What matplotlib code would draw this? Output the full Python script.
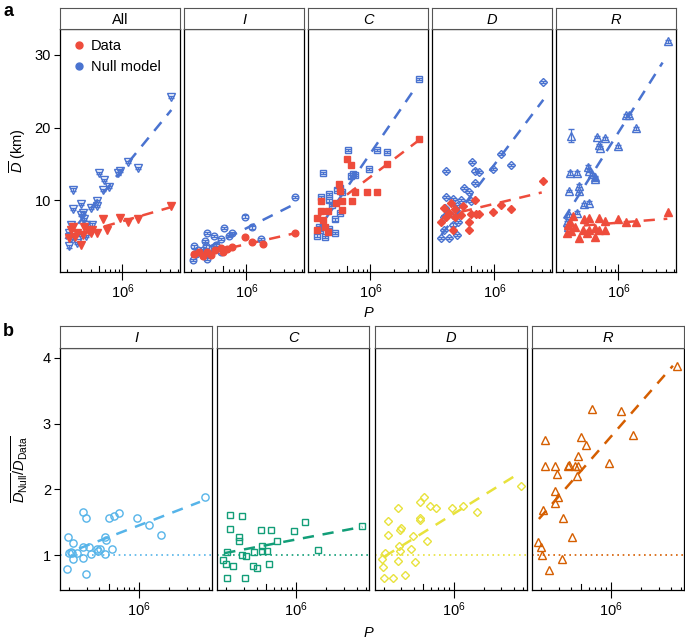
import numpy as np
import matplotlib
matplotlib.use('Agg')
import matplotlib.pyplot as plt
from matplotlib.ticker import FixedLocator, FixedFormatter, NullFormatter
from matplotlib.lines import Line2D

plt.rcParams['font.family'] = ['Liberation Sans', 'DejaVu Sans']
plt.rcParams['mathtext.fontset'] = 'custom'
plt.rcParams['mathtext.rm'] = 'Liberation Sans'
plt.rcParams['mathtext.it'] = 'Liberation Sans:italic'
plt.rcParams['mathtext.bf'] = 'Liberation Sans:bold'

# ---------------- data (x values are log10 of population P) ----------------
# Panel a: mean distance D (km), data and null model
all_null_logP = [6.61, 6.20, 6.07, 5.97, 5.95, 5.71, 5.77, 5.83, 5.75, 5.37, 5.38, 5.47, 5.50, 5.48,
                 5.60, 5.68, 5.68, 5.52, 5.61, 5.54, 5.35, 5.33, 5.33, 5.35, 5.43, 5.33, 5.47, 5.54]
all_null_D = [24.2, 14.4, 15.3, 14.0, 13.7, 13.8, 12.8, 11.8, 11.4, 11.5, 8.8, 9.5, 8.3, 8.0,
              9.0, 9.9, 9.3, 7.5, 6.7, 6.6, 6.7, 5.5, 5.0, 4.9, 4.2, 3.7, 5.3, 5.1]
all_data_logP = [6.61, 6.20, 6.07, 5.97, 5.75, 5.81, 5.68, 5.57, 5.60, 5.50, 5.43, 5.37, 5.35,
                 5.40, 5.47, 5.33, 5.52, 5.62]
all_data_D = [9.3, 7.4, 7.0, 7.6, 7.4, 6.0, 5.5, 6.0, 5.5, 5.3, 5.5, 6.4, 6.0, 5.0, 3.9, 4.9, 6.3, 5.9]

I_null_logP = [6.61, 5.98, 6.07, 6.18, 5.72, 5.82, 5.78, 5.68, 5.50, 5.48, 5.59, 5.62, 5.34, 5.39,
               5.36, 5.32, 5.49, 5.49, 5.50, 5.59, 5.68, 5.45]
I_null_D = [10.5, 7.8, 6.3, 4.7, 6.2, 5.5, 5.1, 4.7, 5.5, 4.5, 5.1, 3.9, 3.7, 3.2,
            2.7, 1.8, 3.7, 2.7, 2.0, 3.4, 2.9, 3.2]
I_data_logP = [6.61, 6.21, 6.07, 5.98, 5.82, 5.75, 5.34, 5.40, 5.50, 5.60, 5.68, 5.55, 5.45, 5.70]
I_data_D = [5.6, 4.1, 4.3, 5.0, 3.6, 3.4, 2.6, 2.9, 3.0, 3.2, 3.5, 2.5, 2.4, 3.0]

C_null_logP = [5.40, 5.72, 5.38, 5.48, 5.48, 5.58, 5.62, 5.64, 5.75, 5.78, 5.81, 5.52, 5.62, 5.55,
               5.35, 5.36, 5.33, 5.42, 5.55, 5.48, 6.62, 6.21, 6.08, 5.98]
C_null_D = [13.8, 16.9, 10.5, 10.9, 10.0, 11.5, 11.7, 11.2, 13.3, 13.6, 13.5, 9.4, 8.3, 7.4,
            6.4, 6.0, 5.2, 5.0, 5.5, 6.1, 26.7, 16.6, 16.9, 14.3]
C_data_logP = [6.62, 6.21, 6.08, 5.96, 5.71, 5.75, 5.60, 5.61, 5.81, 5.56, 5.64, 5.77, 5.46, 5.38,
               5.37, 5.33, 5.42, 5.46, 5.33, 5.40, 5.64]
C_data_D = [18.4, 15.0, 11.1, 11.1, 15.7, 14.9, 12.2, 11.3, 11.1, 9.6, 9.9, 9.9, 8.5, 9.9,
            8.6, 7.6, 6.4, 5.7, 6.0, 7.3, 8.7]

D_null_logP = [6.61, 6.21, 5.98, 6.08, 5.72, 5.76, 5.80, 5.75, 5.62, 5.68, 5.39, 5.39, 5.47, 5.58,
               5.70, 5.53, 5.37, 5.36, 5.48, 5.54, 5.47, 5.36, 5.33, 5.43, 5.53]
D_null_D = [26.2, 14.9, 14.3, 16.4, 15.3, 14.1, 13.9, 12.4, 11.7, 11.2, 14.0, 10.5, 10.2, 10.1,
            9.9, 9.2, 9.0, 7.8, 8.0, 7.1, 6.7, 6.0, 4.9, 4.9, 5.3]
D_data_logP = [6.61, 6.21, 6.08, 5.98, 5.81, 5.75, 5.77, 5.70, 5.60, 5.50, 5.45, 5.36, 5.39, 5.50,
               5.42, 5.68, 5.68, 5.47, 5.33, 5.58]
D_data_D = [12.7, 8.8, 9.4, 8.4, 8.1, 10.1, 8.1, 8.1, 9.2, 8.8, 9.6, 9.0, 7.7, 7.7,
            8.3, 7.0, 6.0, 6.0, 7.1, 8.0]

R_null_logP = [6.63, 6.10, 6.13, 6.22, 5.99, 5.40, 5.73, 5.83, 5.75, 5.77, 5.62, 5.63, 5.67, 5.70,
               5.70, 5.39, 5.48, 5.50, 5.50, 5.37, 5.56, 5.63, 5.48, 5.37, 5.36, 5.35]
R_null_D = [31.8, 21.7, 21.7, 19.9, 17.4, 18.9, 18.7, 18.5, 17.6, 17.2, 14.6, 14.1, 13.6, 13.2,
            13.0, 13.8, 13.8, 12.0, 11.3, 11.3, 9.5, 9.7, 8.3, 8.0, 6.4, 7.0]
R_null_err = [0.2, 0.2, 0.2, 0.2, 0.2, 0.9, 0.2, 0.2, 0.2, 0.2, 0.2, 0.2, 0.2, 0.2,
              0.2, 0.3, 0.3, 0.2, 0.2, 0.2, 0.2, 0.2, 0.2, 0.2, 0.2, 0.2]
R_data_logP = [6.63, 6.22, 6.10, 5.99, 5.83, 5.75, 5.63, 5.56, 5.43, 5.39, 5.71, 5.75, 5.63, 5.55,
               5.50, 5.35, 5.36, 5.70, 5.83, 5.45, 5.40, 5.60]
R_data_D = [8.4, 7.1, 7.0, 7.4, 7.2, 7.6, 7.6, 7.4, 7.9, 7.1, 6.2, 6.0, 6.0, 6.0,
            4.9, 5.5, 6.6, 5.0, 5.9, 6.4, 5.8, 5.6]

# fitted trend lines: (logP_start, logP_end), (D_start, D_end)
fit_a = {
    'All': {'null': ((5.28, 6.62), (4.7, 22.4)), 'data': ((5.28, 6.62), (4.9, 9.1))},
    'I':   {'null': ((5.30, 6.61), (2.4, 9.5)),  'data': ((5.30, 6.61), (2.3, 5.5))},
    'C':   {'null': ((5.30, 6.58), (5.4, 25.6)), 'data': ((5.30, 6.62), (7.5, 18.3))},
    'D':   {'null': ((5.33, 6.62), (5.3, 23.8)), 'data': ((5.33, 6.60), (7.8, 11.1))},
    'R':   {'null': ((5.31, 6.56), (7.5, 28.9)), 'data': ((5.31, 6.62), (6.35, 7.5))},
}

# Panel b: ratio D_null / D_data
I_ratio_logP = [5.28, 5.29, 5.30, 5.32, 5.33, 5.34, 5.34, 5.38, 5.44, 5.47, 5.44, 5.44, 5.47, 5.50,
                5.52, 5.58, 5.59, 5.61, 5.66, 5.67, 5.66, 5.70, 5.75, 5.80, 5.73, 5.98, 6.10, 6.22, 6.66]
I_ratio = [0.79, 1.28, 1.03, 1.05, 1.04, 0.94, 1.18, 1.03, 1.65, 1.57, 1.12, 0.96, 0.72, 1.13,
           1.02, 1.10, 1.07, 1.10, 1.27, 1.23, 1.02, 1.56, 1.59, 1.64, 1.09, 1.56, 1.46, 1.31, 1.89]
C_ratio_logP = [5.34, 5.46, 5.34, 5.43, 5.43, 5.65, 5.75, 5.98, 6.09, 6.66, 5.81, 5.66, 5.66, 5.71,
                5.58, 5.46, 5.50, 5.31, 5.27, 5.30, 5.37, 5.57, 5.61, 5.73, 6.22, 5.31, 5.49]
C_ratio = [1.61, 1.59, 1.40, 1.27, 1.22, 1.38, 1.38, 1.37, 1.51, 1.44, 1.21, 1.14, 1.07, 1.07,
           1.05, 1.00, 0.99, 1.05, 0.92, 0.87, 0.83, 0.84, 0.80, 0.87, 1.08, 0.66, 0.66]
D_ratio_logP = [5.34, 5.44, 5.34, 5.47, 5.46, 5.66, 5.70, 5.66, 5.66, 5.76, 5.82, 5.45, 5.46, 5.57,
                5.59, 5.61, 5.73, 5.44, 5.31, 5.28, 5.29, 5.30, 5.39, 5.51, 5.98, 6.09, 6.23, 6.67]
D_ratio = [1.52, 1.71, 1.30, 1.41, 1.38, 1.81, 1.88, 1.56, 1.53, 1.75, 1.71, 1.14, 1.07, 1.10,
           1.29, 0.90, 1.22, 0.91, 1.04, 0.94, 0.82, 0.65, 0.65, 0.70, 1.71, 1.74, 1.66, 2.05]
R_ratio_logP = [6.66, 5.81, 6.10, 5.34, 5.70, 5.75, 6.22, 5.34, 5.44, 5.46, 5.57, 5.58, 5.67, 5.67,
                5.64, 5.66, 5.98, 5.44, 5.47, 5.44, 5.32, 5.52, 5.61, 5.27, 5.30, 5.31, 5.51, 5.38]
R_ratio = [3.88, 3.23, 3.19, 2.75, 2.80, 2.68, 2.83, 2.36, 2.36, 2.23, 2.36, 2.37, 2.51, 2.35,
           2.36, 2.21, 2.40, 1.98, 1.89, 1.79, 1.69, 1.56, 1.28, 1.20, 1.12, 1.00, 0.94, 0.77]
fit_b = {
    'I': ((5.40, 6.61), (1.10, 1.81)),
    'C': ((5.28, 6.66), (1.03, 1.43)),
    'D': ((5.31, 6.64), (0.98, 2.23)),
    'R': ((5.28, 6.62), (1.55, 3.88)),
}

# ---------------- styling ----------------
RED = '#EE4C3C'
BLUE = '#4A73D0'
COL_B = {'I': '#56B4E9', 'C': '#129E78', 'D': '#E8E23C', 'R': '#D55E00'}
MARK = {'All': 'v', 'I': 'o', 'C': 's', 'D': 'D', 'R': '^'}
MS = {'All': 5.3, 'I': 4.8, 'C': 4.4, 'D': 4.1, 'R': 5.3}
XLIM = (10 ** 5.21, 10 ** 6.73)
FS = 10.5

W, H = 685, 643
fig = plt.figure(figsize=(W / 100, H / 100), dpi=100)


def add_ax(x0, y0, x1, y1):
    return fig.add_axes([x0 / W, 1 - y1 / H, (x1 - x0) / W, (y1 - y0) / H])


def strip(x0, x1, y0, y1, label, italic):
    s = add_ax(x0, y0, x1, y1)
    s.set_xticks([]); s.set_yticks([])
    for sp in s.spines.values():
        sp.set_color('#555555'); sp.set_linewidth(0.8)
    s.text(0.5, 0.45, label, ha='center', va='center', fontsize=FS,
           style='italic' if italic else 'normal', transform=s.transAxes)


def style_x(ax, height_px):
    ax.set_xscale('log')
    ax.set_xlim(*XLIM)
    ax.xaxis.set_major_locator(FixedLocator([1e6]))
    ax.xaxis.set_major_formatter(FixedFormatter([r'$10^6$']))
    minors = [2e5, 3e5, 4e5, 6e5, 7e5, 8e5, 9e5, 2e6, 3e6, 4e6, 5e6]
    ax.xaxis.set_minor_locator(FixedLocator(minors))
    ax.xaxis.set_minor_formatter(NullFormatter())
    ax.tick_params(axis='x', which='major', direction='inout', length=11, width=0.8,
                   labelsize=FS, pad=2)
    ax.tick_params(axis='x', which='minor', direction='in', length=2.3, width=0.8)
    ax.axvline(5e5, ymin=0, ymax=6.0 / height_px, color='black', lw=0.8)
    for sp in ax.spines.values():
        sp.set_linewidth(0.9)


# ---------------- panel a ----------------
a_groups = [
    ('All', False, all_null_logP, all_null_D, 0.15, all_data_logP, all_data_D),
    ('I', True, I_null_logP, I_null_D, 0.15, I_data_logP, I_data_D),
    ('C', True, C_null_logP, C_null_D, 0.15, C_data_logP, C_data_D),
    ('D', True, D_null_logP, D_null_D, 0.15, D_data_logP, D_data_D),
    ('R', True, R_null_logP, R_null_D, R_null_err, R_data_logP, R_data_D),
]
a_top, a_bot, a_strip = 29, 272, 8
for i, (name, ital, nx, ny, nerr, dx, dy) in enumerate(a_groups):
    x0 = 60 + i * 124
    x1 = x0 + 120
    ax = add_ax(x0, a_top, x1, a_bot)
    strip(x0, x1, a_strip, a_top, name, ital)
    m = MARK[name]
    ax.errorbar(10 ** np.array(nx), ny, yerr=nerr, fmt=m, ms=MS[name], mfc='none',
                mec=BLUE, mew=1.0, ecolor=BLUE, elinewidth=0.9, capsize=2.2, capthick=0.9,
                zorder=3)
    ax.plot(10 ** np.array(dx), dy, m, ms=MS[name], color=RED, mec=RED, zorder=4, lw=0)
    for key, c in (('null', BLUE), ('data', RED)):
        (lx, ly) = fit_a[name][key]
        ax.plot(10 ** np.array(lx), ly, color=c, lw=1.8, dashes=(4.5, 3.5), zorder=2)
    ax.set_ylim(0.2, 33.5)
    style_x(ax, a_bot - a_top)
    if i == 0:
        ax.set_yticks([10, 20, 30])
        ax.tick_params(axis='y', direction='out', length=4.5, width=0.8, labelsize=FS, pad=2)
        ax.set_ylabel(r'$\overline{D}$ (km)', fontsize=FS, labelpad=5)
        handles = [Line2D([], [], marker='o', ls='none', color=RED, ms=5),
                   Line2D([], [], marker='o', ls='none', color=BLUE, ms=5)]
        ax.legend(handles, ['Data', 'Null model'], loc='upper left', frameon=False,
                  fontsize=FS, handletextpad=0.2, borderaxespad=0.3, labelspacing=0.5,
                  handlelength=1.2)
    else:
        ax.set_yticks([])

# ---------------- panel b ----------------
b_groups = [
    ('I', I_ratio_logP, I_ratio),
    ('C', C_ratio_logP, C_ratio),
    ('D', D_ratio_logP, D_ratio),
    ('R', R_ratio_logP, R_ratio),
]
b_top, b_bot, b_strip = 348, 590, 326
for i, (name, rx, ry) in enumerate(b_groups):
    x0 = 60 + i * 157.3
    x1 = x0 + 152
    ax = add_ax(x0, b_top, x1, b_bot)
    strip(x0, x1, b_strip, b_top, name, True)
    c = COL_B[name]
    ax.plot(10 ** np.array(rx), ry, MARK[name], ms=MS[name] + 0.4, mfc='none', mec=c,
            mew=1.0, lw=0, zorder=3)
    (lx, ly) = fit_b[name]
    ax.plot(10 ** np.array(lx), ly, color=c, lw=1.8, dashes=(4.5, 3.5), zorder=2)
    ax.axhline(1, color=c, lw=1.2, ls=(0, (1, 2.2)), zorder=1)
    ax.set_ylim(0.47, 4.15)
    style_x(ax, b_bot - b_top)
    if i == 0:
        ax.set_yticks([1, 2, 3, 4])
        ax.tick_params(axis='y', direction='out', length=4.5, width=0.8, labelsize=FS, pad=2)
        ax.set_ylabel(r'$\overline{D_{\mathrm{Null}}}/\overline{D_{\mathrm{Data}}}$',
                      fontsize=FS, labelpad=9)
    else:
        ax.set_yticks([])

fig.text(368 / W, 1 - 313 / H, 'P', style='italic', fontsize=FS, ha='center', va='center')
fig.text(368 / W, 1 - 633 / H, 'P', style='italic', fontsize=FS, ha='center', va='center')
fig.text(3 / W, 1 - 11 / H, 'a', fontweight='bold', fontsize=13, ha='left', va='center')
fig.text(3 / W, 1 - 331 / H, 'b', fontweight='bold', fontsize=13, ha='left', va='center')

fig.savefig('out.png', dpi=100)
